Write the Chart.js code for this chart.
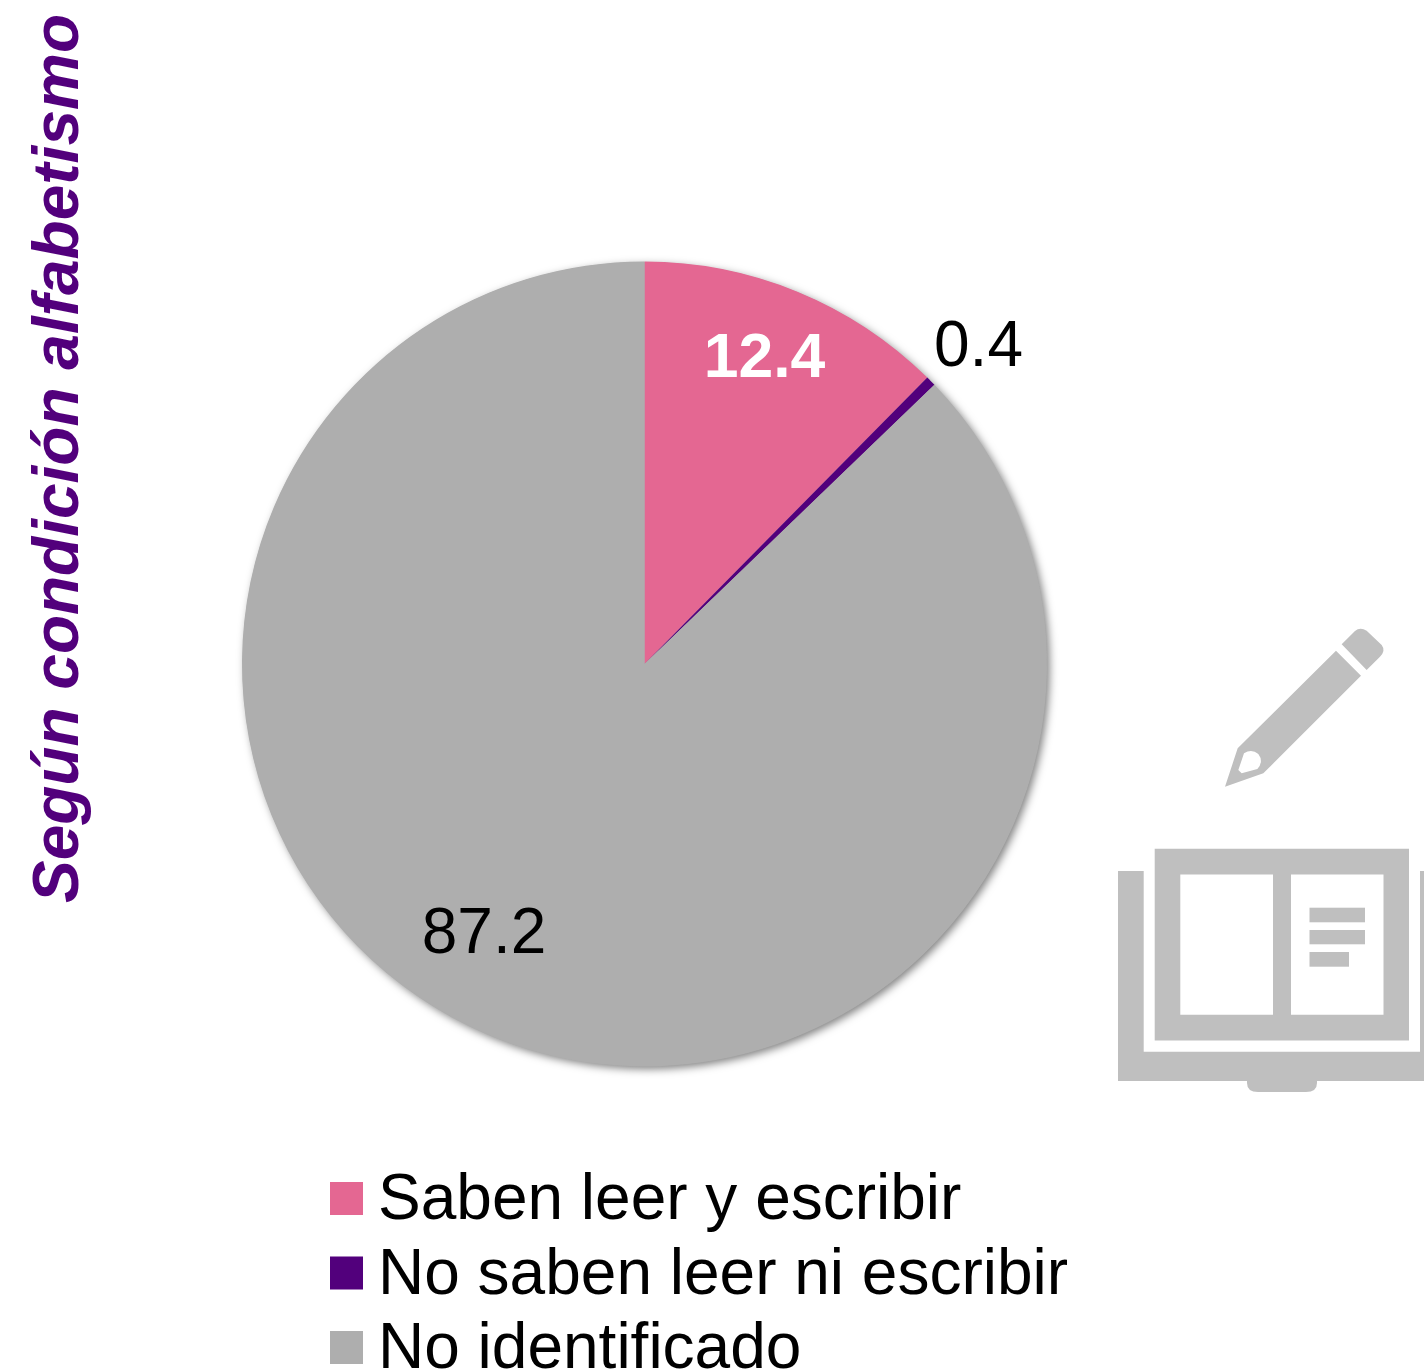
<!DOCTYPE html>
<html lang="es">
<head>
<meta charset="utf-8">
<title>Según condición alfabetismo</title>
<script src="https://cdn.jsdelivr.net/npm/chart.js@4"></script>
<style>
html,body{margin:0;padding:0;background:#fff;width:1424px;height:1372px;overflow:hidden}
#c{position:absolute;left:0;top:0}
#icon{position:absolute;left:0;top:0;pointer-events:none}
</style>
</head>
<body>
<canvas id="c" width="1424" height="1372"></canvas>
<svg id="icon" width="1424" height="1372" viewBox="0 0 1424 1372" fill="#bfbfbf">
  <path fill-rule="evenodd" d="M1118 871H1143.7V1051.7H1420V871H1424V1081H1317V1083Q1317 1092 1306 1092H1258Q1247 1092 1247 1083V1081H1118Z"/>
  <path fill-rule="evenodd" d="M1154.7 848.7H1409V1040.5H1154.7ZM1180.3 874.5V1014.7H1273V874.5ZM1291 874.5V1014.7H1383.5V874.5Z"/>
  <rect x="1309.5" y="907.7" width="55.5" height="14.6"/>
  <rect x="1309.5" y="930" width="55.5" height="14.3"/>
  <rect x="1309.5" y="952" width="39.5" height="14.7"/>
  <g transform="translate(1100 610) scale(0.33333)">
    <path d="M725 103L765 63Q780 50 800 62L845 105Q858 122 840 140L800 180Z"/>
    <path fill-rule="evenodd" d="M708 122L783 197L490 490L375 530L413 415ZM432 430Q455 415 475 432Q492 455 472 477L425 490L415 480Z"/>
  </g>
</svg>
<script>
const categories = ["Saben leer y escribir", "No saben leer ni escribir", "No identificado"];
const values = [12.4, 0.4, 87.2];
const valueLabels = ["12.4", "0.4", "87.2"];
const colors = ["#e46792", "#52007c", "#aeaeae"];
const chartTitle = "Según condición alfabetismo";
const FONT = '"Liberation Sans", Arial, sans-serif';

const labelStyle = [
  {x: 764.5, y: 360, size: 62.5, color: "#ffffff", weight: "bold"},
  {x: 978.5, y: 348, size: 64, color: "#000000", weight: "normal"},
  {x: 484, y: 935.5, size: 64, color: "#000000", weight: "normal"}
];

const pieShadow = {
  id: "pieShadow",
  beforeDatasetsDraw(chart) {
    const arc = chart.getDatasetMeta(0).data[0];
    const ctx = chart.ctx;
    ctx.save();
    ctx.shadowColor = "rgba(0,0,0,0.5)";
    ctx.shadowBlur = 8;
    ctx.shadowOffsetX = 3;
    ctx.shadowOffsetY = 3;
    ctx.fillStyle = colors[2];
    ctx.beginPath();
    ctx.arc(arc.x, arc.y, arc.outerRadius - 0.5, 0, Math.PI * 2);
    ctx.fill();
    ctx.restore();
  }
};

const texts = {
  id: "texts",
  afterDraw(chart) {
    const ctx = chart.ctx;
    ctx.save();
    ctx.textBaseline = "middle";
    ctx.textAlign = "center";
    valueLabels.forEach((t, i) => {
      const s = labelStyle[i];
      ctx.font = s.weight + " " + s.size + "px " + FONT;
      ctx.fillStyle = s.color;
      ctx.fillText(t, s.x, s.y);
    });
    ctx.textBaseline = "alphabetic";
    ctx.textAlign = "left";
    ctx.font = "64px " + FONT;
    categories.forEach((t, i) => {
      const top = 1182 + i * 74.5;
      ctx.fillStyle = colors[i];
      ctx.fillRect(330, top, 33, 33);
      ctx.fillStyle = "#000000";
      ctx.fillText(t, 378, top + 37);
    });
    ctx.translate(78, 903);
    ctx.rotate(-Math.PI / 2);
    ctx.font = "italic bold 64px " + FONT;
    ctx.fillStyle = colors[1];
    ctx.fillText(chartTitle, 0, 0);
    ctx.restore();
  }
};

new Chart(document.getElementById("c"), {
  type: "pie",
  data: {
    labels: categories,
    datasets: [{data: values, backgroundColor: colors, borderWidth: 0}]
  },
  options: {
    responsive: false,
    animation: false,
    layout: {padding: {left: 242, right: 377, top: 261, bottom: 305}},
    plugins: {legend: {display: false}, tooltip: {enabled: false}, title: {display: false}}
  },
  plugins: [pieShadow, texts]
});
</script>
</body>
</html>
